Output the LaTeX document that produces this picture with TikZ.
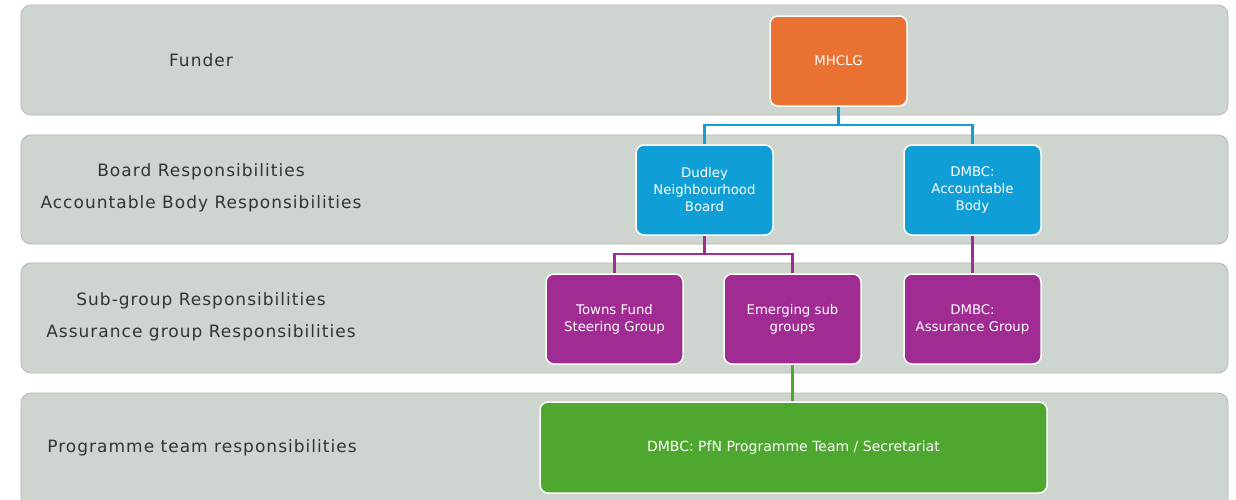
\documentclass[tikz,border=0pt]{standalone}
\usepackage{fontspec}
\setmainfont{DejaVu Sans}
\newfontfamily\boxfont{DejaVu Sans}
\newfontfamily\lblfont[LetterSpace=6]{DejaVu Sans}
\definecolor{bandfill}{RGB}{206,213,206}
\definecolor{bandedge}{RGB}{178,184,178}
\definecolor{labelcol}{RGB}{50,52,50}
\definecolor{orangebox}{RGB}{233,113,50}
\definecolor{bluebox}{RGB}{15,158,213}
\definecolor{purplebox}{RGB}{160,43,147}
\definecolor{greenbox}{RGB}{78,167,46}
\tikzset{
  band/.style={fill=bandfill, draw=bandedge, line width=0.8pt, rounded corners=10pt},
  lbl/.style={text=labelcol, font=\lblfont\fontsize{17}{32}\selectfont, align=center},
  orgbox/.style={draw=white, line width=1.5pt, rounded corners=8pt, minimum width=137pt, minimum height=90pt, inner sep=2pt, text=white, font=\boxfont\fontsize{13.3}{17}\selectfont, align=center},
  conn/.style={line width=2.2pt}
}
\begin{document}
\begin{tikzpicture}[x=1pt,y=-1pt]
\useasboundingbox (0,0) rectangle (1236,499);
\fill[white] (0,0) rectangle (1236,499);
% bands
\draw[band] (21,5) rectangle (1228,115);
\draw[band] (21,135) rectangle (1228,244);
\draw[band] (21,263) rectangle (1228,373);
\draw[band] (21,393) rectangle (1228,510);
% band labels
\node[lbl] (l1) at (201,60) {Funder};
\node[lbl] (l2) at (201,188) {Board Responsibilities\\Accountable Body Responsibilities};
\node[lbl] (l3) at (201,317) {Sub-group Responsibilities\\Assurance group Responsibilities};
\node[lbl] (l4) at (202,448) {Programme team responsibilities};
% boxes
\node[orgbox, fill=orangebox] (mhclg) at (838.5,61) {MHCLG};
\node[orgbox, fill=bluebox] (dnb) at (704.5,190) {Dudley\\Neighbourhood\\Board};
\node[orgbox, fill=bluebox] (dab) at (972.5,190) {DMBC:\\Accountable\\Body};
\node[orgbox, fill=purplebox] (tfsg) at (614.5,319) {Towns Fund\\Steering Group};
\node[orgbox, fill=purplebox] (esg) at (792.5,319) {Emerging sub\\groups};
\node[orgbox, fill=purplebox] (dag) at (972.5,319) {DMBC:\\Assurance Group};
\node[orgbox, fill=greenbox, minimum width=507pt, minimum height=91pt, font=\boxfont\fontsize{14}{17}\selectfont] (team) at (793.5,447.5) {DMBC: PfN Programme Team / Secretariat};
% connectors
\coordinate (j1) at (838.5,125);
\coordinate (j2) at (704.5,254);
\draw[conn, bluebox] (mhclg.south) -- (j1) -| (dnb.north);
\draw[conn, bluebox] (j1) -| (dab.north);
\draw[conn, purplebox] (dnb.south) -- (j2) -| (tfsg.north);
\draw[conn, purplebox] (j2) -| (esg.north);
\draw[conn, purplebox] (dab.south) -- (dag.north);
\draw[conn, greenbox] (esg.south) -- (esg.south |- team.north);
\end{tikzpicture}
\end{document}
